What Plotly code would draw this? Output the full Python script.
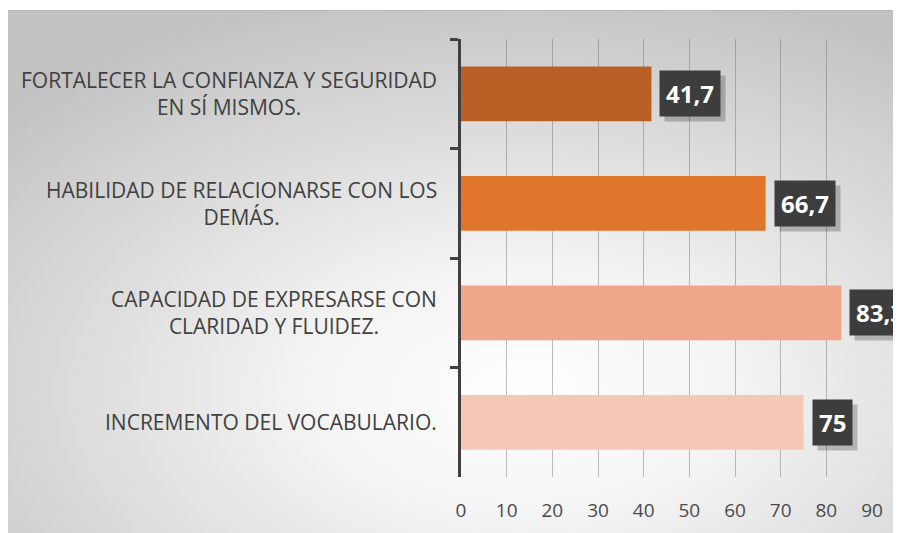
import base64
import plotly.graph_objects as go

# ---- data (top to bottom as displayed) ----
categories = [
    "FORTALECER LA CONFIANZA Y SEGURIDAD<br>EN SÍ MISMOS.",
    "HABILIDAD DE RELACIONARSE CON LOS<br>DEMÁS.",
    "CAPACIDAD DE EXPRESARSE CON<br>CLARIDAD Y FLUIDEZ.",
    "INCREMENTO DEL VOCABULARIO.",
]
values = [41.7, 66.7, 83.3, 75]
x_ticks = [0, 10, 20, 30, 40, 50, 60, 70, 80, 90]

bar_colors = ["#BA6026", "#E0752C", "#F0A68A", "#F5C7B7"]
ids = ["c%d" % i for i in range(len(categories))]

# page offset of the figure (body margin) compensation
OFF = 8
W, H = 901, 533
ML, MR, MT, MB = 461 - OFF, 29 + OFF, 39 - OFF, 56 + OFF
pw, ph = W - ML - MR, H - MT - MB

fig = go.Figure()
fig.add_trace(go.Bar(
    x=values, y=ids, orientation="h",
    marker=dict(color=bar_colors, line=dict(width=0)),
    width=0.5, hoverinfo="skip",
))

# background radial gradient
BW, BH = W, H - 2
svg = ('<svg xmlns="http://www.w3.org/2000/svg" width="%d" height="%d" viewBox="0 0 %d %d" preserveAspectRatio="none">'
       '<defs><radialGradient id="g" cx="0.57" cy="0.72" r="0.78" gradientUnits="objectBoundingBox">'
       '<stop offset="0" stop-color="#ffffff"/><stop offset="0.3" stop-color="#f4f4f4"/>'
       '<stop offset="1" stop-color="#c2c2c2"/></radialGradient></defs>'
       '<rect width="%d" height="%d" fill="url(#g)"/>'
       '<line x1="0" y1="0.5" x2="%d" y2="0.5" stroke="#b8b8b8" stroke-width="1"/></svg>') % (BW, BH, BW, BH, BW, BH, BW)
src = "data:image/svg+xml;base64," + base64.b64encode(svg.encode()).decode()
x0 = (0 - ML) / pw
x1 = (W - ML) / pw
y1 = 1 + (MT - 2) / ph
y0 = -(MB) / ph
fig.add_layout_image(dict(source=src, xref="paper", yref="paper", x=x0, y=y1,
                          sizex=x1 - x0, sizey=y1 - y0, xanchor="left", yanchor="top",
                          sizing="stretch", layer="below", opacity=1))

annotations = []
for cid, lab in zip(ids, categories):
    annotations.append(dict(x=0, xref="paper", y=cid, yref="y", text=lab, showarrow=False,
                            xanchor="right", yanchor="middle", align="center", xshift=-22,
                            font=dict(family="Open Sans", size=21, color="#404040")))
for cid, v in zip(ids, values):
    txt = ("%g" % v).replace(".", ",")
    annotations.append(dict(x=v, y=cid, xref="x", yref="y", text="<b>%s</b>" % txt, showarrow=False,
                            xanchor="left", yanchor="middle", xshift=13, yshift=-5,
                            bgcolor="rgba(0,0,0,0.22)", borderpad=6,
                            font=dict(family="Open Sans", size=24, color="rgba(0,0,0,0)")))
    annotations.append(dict(x=v, y=cid, xref="x", yref="y", text="<b>%s</b>" % txt, showarrow=False,
                            xanchor="left", yanchor="middle", xshift=8,
                            bgcolor="#3d3d3d", borderpad=6,
                            font=dict(family="Open Sans", size=24, color="#ffffff")))

fig.update_layout(
    width=W, height=H,
    margin=dict(l=ML, r=MR, t=MT, b=MB, pad=0),
    paper_bgcolor="#ffffff", plot_bgcolor="rgba(0,0,0,0)",
    showlegend=False, bargap=0.5,
    annotations=annotations,
    xaxis=dict(range=[0, 90], tickvals=x_ticks, ticktext=[str(t) for t in x_ticks],
               showgrid=True, gridcolor="rgba(110,110,110,0.45)", gridwidth=1,
               zeroline=False, showline=False, ticks="",
               tickfont=dict(family="Open Sans", size=19, color="#4a4a4a"),
               ticklabelstandoff=20),
    yaxis=dict(categoryorder="array", categoryarray=ids, autorange="reversed",
               showticklabels=False, showgrid=False, zeroline=False,
               showline=True, linecolor="#404040", linewidth=3,
               ticks="outside", tickson="boundaries", ticklen=8, tickwidth=3,
               tickcolor="#404040"),
)

fig.write_html("out.html")
